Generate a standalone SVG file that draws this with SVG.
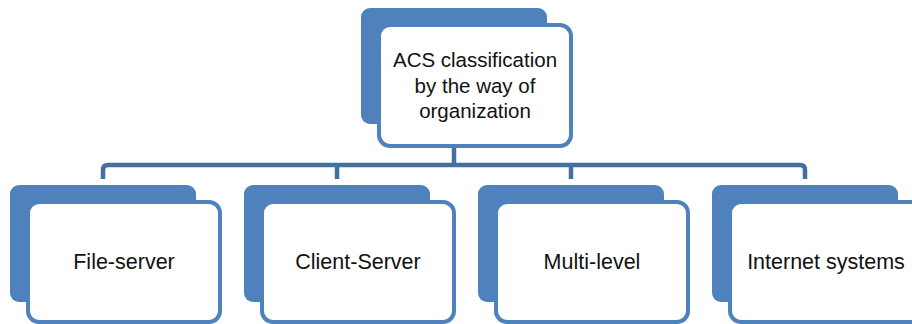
<svg xmlns="http://www.w3.org/2000/svg" width="912" height="324" viewBox="0 0 912 324">
<style>
.back{fill:#4F81BD;}
.front{fill:#FFFFFF;stroke:#4F81BD;stroke-width:4;}
.conn{fill:none;stroke:#44709F;stroke-width:4.5;stroke-linejoin:round;}
text{font-family:"Liberation Sans",Arial,sans-serif;font-size:20.5px;fill:#111;text-anchor:middle;}
.lbl{font-size:21.5px;}
</style>
<rect width="912" height="324" fill="#FFFFFF"/>
<g id="connectors">
<path class="conn" d="M454,148 V165"/>
<path class="conn" d="M103,179 V170 Q103,165 108,165 H800 Q805,165 805,170 V179"/>
<path class="conn" d="M337,165 V179"/>
<path class="conn" d="M571,165 V179"/>
</g>
<g id="root">
<rect class="back" x="361" y="8" width="186" height="116" rx="9"/>
<rect class="front" x="379" y="25" width="192" height="121" rx="11"/>
<text x="475" y="67">ACS classification</text>
<text x="475" y="93">by the way of</text>
<text x="475" y="118">organization</text>
</g>
<g id="file-server">
<rect class="back" x="10" y="185" width="186" height="117" rx="9"/>
<rect class="front" x="28" y="202" width="192" height="120" rx="11"/>
<text class="lbl" x="124" y="269">File-server</text>
</g>
<g id="client-server">
<rect class="back" x="244" y="185" width="186" height="117" rx="9"/>
<rect class="front" x="262" y="202" width="192" height="120" rx="11"/>
<text class="lbl" x="358" y="269">Client-Server</text>
</g>
<g id="multi-level">
<rect class="back" x="478" y="185" width="186" height="117" rx="9"/>
<rect class="front" x="496" y="202" width="192" height="120" rx="11"/>
<text class="lbl" x="592" y="269">Multi-level</text>
</g>
<g id="internet-systems">
<rect class="back" x="712" y="185" width="186" height="117" rx="9"/>
<rect class="front" x="730" y="202" width="192" height="120" rx="11"/>
<text class="lbl" x="826" y="269">Internet systems</text>
</g>
</svg>
